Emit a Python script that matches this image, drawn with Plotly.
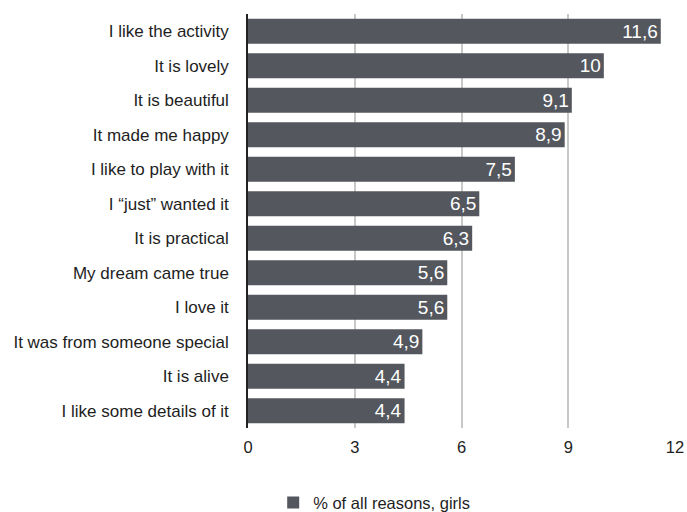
import plotly.graph_objects as go

reasons = [
    "I like the activity", "It is lovely", "It is beautiful", "It made me happy",
    "I like to play with it", "I \u201cjust\u201d wanted it", "It is practical",
    "My dream came true", "I love it", "It was from someone special",
    "It is alive", "I like some details of it",
]
shares = [11.6, 10, 9.1, 8.9, 7.5, 6.5, 6.3, 5.6, 5.6, 4.9, 4.4, 4.4]
x_ticks = [0, 3, 6, 9, 12]

bar_color = "#54575d"
text_color = "#1e1e1e"
font_family = "Liberation Sans, Arial, sans-serif"

labels = [f"{v:g}".replace(".", ",") for v in shares]

fig = go.Figure(go.Bar(
    x=shares, y=reasons, orientation="h",
    marker=dict(color=bar_color, line=dict(width=0)),
    text=labels, textposition="inside", insidetextanchor="end",
    textangle=0, constraintext="none",
    textfont=dict(color="white", size=19, family=font_family),
    name="% of all reasons, girls", showlegend=True,
))

fig.update_layout(
    width=687, height=512,
    margin=dict(l=248, r=12, t=14, b=84, autoexpand=False),
    plot_bgcolor="white", paper_bgcolor="white",
    bargap=0.27,
    font=dict(family=font_family, size=17, color=text_color),
    xaxis=dict(range=[0, 12], tickvals=x_ticks, showgrid=True, gridcolor="#c8c8c8",
               gridwidth=1.5, zeroline=False, showline=False, ticks="",
               ticklabelstandoff=7, automargin=False,
               tickfont=dict(size=16.5, color=text_color)),
    yaxis=dict(autorange="reversed", showline=True, linecolor="#222222", linewidth=1.5,
               ticks="", ticklabelstandoff=14, automargin=False,
               tickfont=dict(size=17, color=text_color)),
    legend=dict(orientation="h", x=0.059, xanchor="left",
                yref="container", y=0.018, yanchor="middle",
                font=dict(size=16.5, color=text_color)),
)

fig.write_html("out.html")
